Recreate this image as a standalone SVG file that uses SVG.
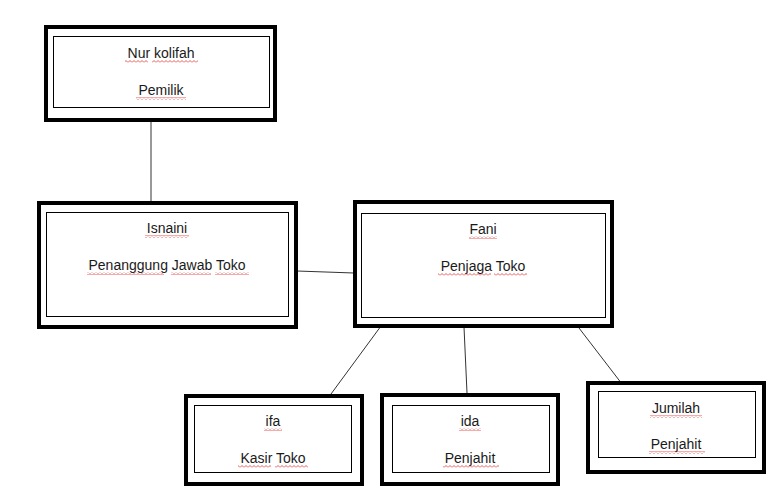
<svg xmlns="http://www.w3.org/2000/svg" width="781" height="494" viewBox="0 0 781 494">
<style>
.outer{fill:#fff;stroke:#000;stroke-width:4}
.inner{fill:#fff;stroke:#000;stroke-width:1}
.lbl{font-family:"Liberation Sans",Arial,sans-serif;font-size:14px;fill:#1a1a1a;text-anchor:middle}
.con{stroke:#333;stroke-width:1;fill:none}
.sq{fill:url(#squig)}
</style>
<defs>
<pattern id="squig" x="0" y="0" width="4" height="3" patternUnits="userSpaceOnUse">
<path d="M0,2.5 L2,0.5 L4,2.5" fill="none" stroke="#e03030" stroke-width="0.8"/>
</pattern>
</defs>
<rect width="781" height="494" fill="#fff"/>
<g id="connectors">
<line class="con" x1="151" y1="121" x2="151" y2="201"/>
<line class="con" x1="297" y1="271" x2="354" y2="273"/>
<line class="con" x1="381" y1="326" x2="331" y2="394"/>
<line class="con" x1="464" y1="327" x2="467" y2="393"/>
<line class="con" x1="579" y1="328" x2="622" y2="384"/>
</g>
<g id="node-nur">
<rect class="outer" x="46" y="27" width="229" height="93"/>
<rect class="inner" x="53.5" y="36.5" width="216" height="71"/>
<text class="lbl" x="161" y="58">Nur kolifah</text>
<text class="lbl" x="161" y="95">Pemilik</text>
<rect class="sq" x="125" y="60" width="23" height="3"/>
<rect class="sq" x="152" y="60" width="46" height="3"/>
<rect class="sq" x="136" y="97" width="50" height="3"/>
</g>
<g id="node-isnaini">
<rect class="outer" x="39" y="203" width="257" height="124"/>
<rect class="inner" x="46.5" y="212.5" width="242" height="104"/>
<text class="lbl" x="167" y="233">Isnaini</text>
<text class="lbl" x="167" y="270">Penanggung Jawab Toko</text>
<rect class="sq" x="145" y="235" width="44" height="3"/>
<rect class="sq" x="87" y="272" width="77" height="3"/>
<rect class="sq" x="171" y="272" width="40" height="3"/>
<rect class="sq" x="215" y="272" width="34" height="3"/>
</g>
<g id="node-fani">
<rect class="outer" x="355" y="202" width="257" height="124"/>
<rect class="inner" x="361.5" y="213.5" width="244" height="104"/>
<text class="lbl" x="483" y="234">Fani</text>
<text class="lbl" x="483" y="271">Penjaga Toko</text>
<rect class="sq" x="469" y="236" width="28" height="3"/>
<rect class="sq" x="438" y="273" width="53" height="3"/>
<rect class="sq" x="494" y="273" width="33" height="3"/>
</g>
<g id="node-ifa">
<rect class="outer" x="186" y="396" width="176" height="88"/>
<rect class="inner" x="194.5" y="405.5" width="157" height="67"/>
<text class="lbl" x="273" y="426">ifa</text>
<text class="lbl" x="273" y="463">Kasir Toko</text>
<rect class="sq" x="264" y="428" width="18" height="3"/>
<rect class="sq" x="238" y="465" width="33" height="3"/>
<rect class="sq" x="275" y="465" width="33" height="3"/>
</g>
<g id="node-ida">
<rect class="outer" x="382" y="395" width="176" height="89"/>
<rect class="inner" x="392.5" y="405.5" width="157" height="67"/>
<text class="lbl" x="470" y="426">ida</text>
<text class="lbl" x="470" y="463">Penjahit</text>
<rect class="sq" x="459" y="428" width="22" height="3"/>
<rect class="sq" x="443" y="465" width="56" height="3"/>
</g>
<g id="node-jumilah">
<rect class="outer" x="588" y="383" width="176" height="89"/>
<rect class="inner" x="598.5" y="391.5" width="157" height="66"/>
<text class="lbl" x="676" y="413">Jumilah</text>
<text class="lbl" x="676" y="449">Penjahit</text>
<rect class="sq" x="650" y="415" width="52" height="3"/>
<rect class="sq" x="649" y="451" width="56" height="3"/>
</g>
</svg>
